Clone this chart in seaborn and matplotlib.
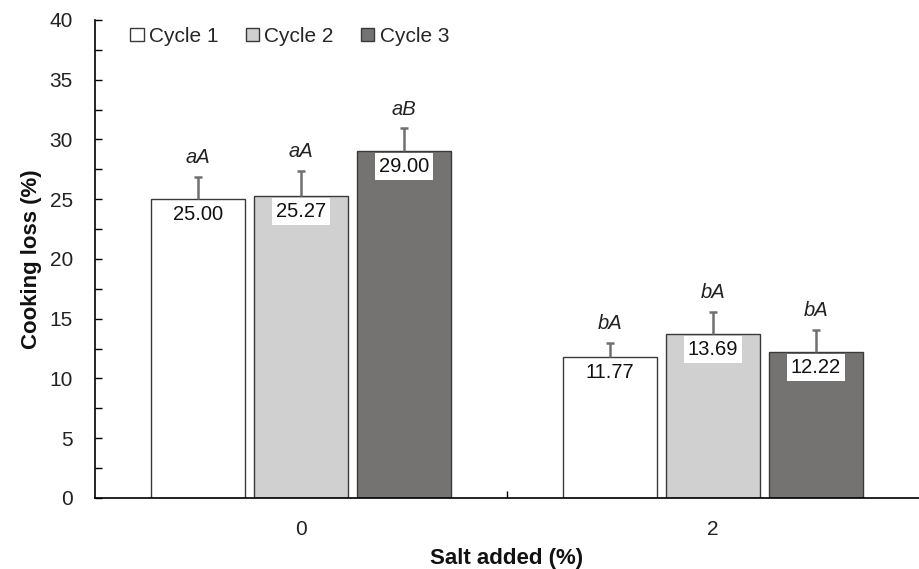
import matplotlib
matplotlib.use("Agg")
import matplotlib.pyplot as plt
import seaborn as sns
import pandas as pd
import numpy as np
from matplotlib.ticker import MultipleLocator, FixedLocator

salt = ["0", "2"]
cycles = ["Cycle 1", "Cycle 2", "Cycle 3"]
cycle1 = [25.00, 11.77]
cycle2 = [25.27, 13.69]
cycle3 = [29.00, 12.22]
err1 = [1.85, 1.2]
err2 = [2.1, 1.87]
err3 = [1.95, 1.85]
letters1 = ["aA", "bA"]
letters2 = ["aA", "bA"]
letters3 = ["aB", "bA"]
colors = ["#FFFFFF", "#D0D0D0", "#767171"]

sns.set_theme(style="white")
plt.rcParams["font.family"] = ["Liberation Sans", "DejaVu Sans"]

rows = []
for c, vals in zip(cycles, [cycle1, cycle2, cycle3]):
    for s, v in zip(salt, vals):
        rows.append({"Salt": s, "Cycle": c, "Loss": v})
df = pd.DataFrame(rows)

fig = plt.figure(figsize=(9.19, 5.69), dpi=100)
ax = fig.add_axes([0.1034, 0.1248, 0.8966, 0.8401])

sns.barplot(data=df, x="Salt", y="Loss", hue="Cycle", order=salt, hue_order=cycles,
            palette=colors, errorbar=None, gap=0.08, width=0.75,
            edgecolor="#3a3a3a", linewidth=1.0, ax=ax, legend=True)

errs = [err1, err2, err3]
lets = [letters1, letters2, letters3]
vals_all = [cycle1, cycle2, cycle3]
for cont, e, l, vals in zip(ax.containers, errs, lets, vals_all):
    xs = [p.get_x() + p.get_width() / 2 for p in cont.patches]
    eb = ax.errorbar(xs, vals, yerr=[np.zeros(len(e)), e], fmt="none",
                     ecolor="#707070", elinewidth=1.8, capsize=3, capthick=1.8, zorder=3)
    eb[1][0].set_visible(False)
    for x, v, ee, t in zip(xs, vals, e, l):
        ax.text(x, v + ee + 1.6, t, ha="center", va="center", fontsize=14.5,
                style="italic", color="#222222")
        ax.text(x, v - 1.3, f"{v:.2f}", ha="center", va="center", fontsize=14.5,
                color="#111111", zorder=4,
                bbox=dict(boxstyle="square,pad=0.2", fc="white", ec="none"))

ax.set_ylim(0, 40)
ax.set_xlim(-0.5, 1.5)
ax.yaxis.set_major_locator(MultipleLocator(5))
ax.yaxis.set_minor_locator(MultipleLocator(2.5))
ax.xaxis.set_minor_locator(FixedLocator([0.5]))
ax.tick_params(axis="y", which="both", direction="in", length=5, width=1,
               color="#000000", labelsize=15, labelcolor="#222222", left=True, pad=16)
ax.tick_params(axis="x", which="major", length=0, labelsize=15, labelcolor="#222222", pad=16)
ax.tick_params(axis="x", which="minor", direction="in", length=5, width=1, bottom=True,
               color="#000000")

for s in ["top", "right"]:
    ax.spines[s].set_visible(False)
for s in ["left", "bottom"]:
    ax.spines[s].set_color("#000000")
    ax.spines[s].set_linewidth(1.2)

ax.set_xlabel("Salt added (%)", fontsize=16, fontweight="bold", labelpad=6, color="#111111")
ax.set_ylabel("Cooking loss (%)", fontsize=16, fontweight="bold", labelpad=5, color="#111111")

ax.legend(loc="upper left", bbox_to_anchor=(0.02, 1.025), ncol=3, frameon=False,
          fontsize=15, handlelength=0.65, handleheight=0.65, handletextpad=0.25,
          columnspacing=1.3, title=None)

fig.savefig("out.png", dpi=100)
